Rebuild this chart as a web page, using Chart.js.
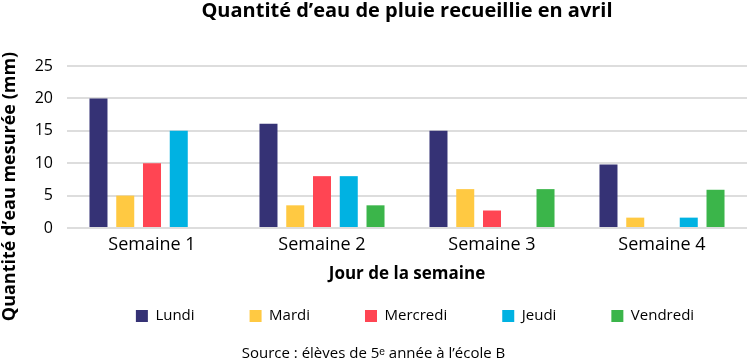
<!DOCTYPE html>
<html>
<head>
<meta charset="utf-8">
<script src="https://cdn.jsdelivr.net/npm/chart.js@4"></script>
<style>
  html, body { margin: 0; padding: 0; background: #fff; }
  #wrap { width: 751px; height: 360px; position: relative; }
</style>
</head>
<body>
<div id="wrap"><canvas id="c"></canvas></div>
<script>
const categories = ["Semaine 1", "Semaine 2", "Semaine 3", "Semaine 4"];
const seriesNames = ["Lundi", "Mardi", "Mercredi", "Jeudi", "Vendredi"];
const lundi    = [20, 16.1, 15, 9.8];
const mardi    = [5, 3.5, 6, 1.6];
const mercredi = [10, 8, 2.7, 0];
const jeudi    = [15, 8, 0, 1.6];
const vendredi = [0, 3.5, 6, 5.9];
const yTicks = [0, 5, 10, 15, 20, 25];

const titleText = "Quantité d’eau de pluie recueillie en avril";
const yTitleText = "Quantité d’eau mesurée (mm)";
const xTitleText = "Jour de la semaine";
const sourceText = "Source : élèves de 5ᵉ année à l’école B";

const colors = ["#353275", "#FFC942", "#FF4553", "#00B2E2", "#3BB54A"];
const values = [lundi, mardi, mercredi, jeudi, vendredi];

Chart.defaults.font.family = "'Open Sans', sans-serif";
Chart.defaults.color = "#000";

const yTitlePlugin = {
  id: 'yTitle',
  afterLayout(chart) {
    // nudge the legend row to the right, as in the reference
    if (chart.legend) { chart.legend.left += 8; chart.legend.right += 8; }
  },
  afterDraw(chart) {
    const ctx = chart.ctx;
    ctx.save();
    ctx.font = "bold 18px 'Open Sans', sans-serif";
    ctx.fillStyle = "#000";
    ctx.textAlign = "center";
    ctx.textBaseline = "middle";
    ctx.translate(10, 186.5);
    ctx.rotate(-Math.PI / 2);
    ctx.fillText(yTitleText, 0, 0);
    ctx.restore();
  }
};

new Chart(document.getElementById('c'), {
  type: 'bar',
  data: {
    labels: categories,
    datasets: seriesNames.map((n, i) => ({
      label: n,
      data: values[i],
      backgroundColor: colors[i],
      borderWidth: 0,
      categoryPercentage: 0.787,
      barPercentage: 0.673
    }))
  },
  options: {
    responsive: true,
    maintainAspectRatio: false,
    animation: false,
    layout: { padding: { left: 0, right: 4, top: 0, bottom: 0 } },
    plugins: {
      title: {
        display: true,
        fullSize: false,
        text: titleText,
        font: { size: 20, weight: 'bold' },
        color: '#000',
        padding: { top: -1, bottom: 43 }
      },
      subtitle: {
        display: true,
        position: 'bottom',
        text: sourceText,
        font: { size: 15, weight: 'normal' },
        color: '#000',
        padding: { top: 11.1, bottom: -2.6 }
      },
      legend: {
        position: 'bottom',
        fullSize: false,
        labels: {
          boxWidth: 12,
          boxHeight: 12,
          padding: 55,
          font: { size: 15 },
          color: '#000'
        }
      },
      tooltip: { enabled: false }
    },
    scales: {
      x: {
        grid: { display: false, drawTicks: false },
        border: { display: false },
        ticks: { padding: 6.5, font: { size: 18 }, color: '#000' },
        title: {
          display: true,
          text: xTitleText,
          font: { size: 17, weight: 'bold' },
          color: '#000',
          padding: { top: 1.2, bottom: -30.7 }
        }
      },
      y: {
        min: 0,
        max: 25,
        afterFit(scale) { scale.width = 67; },
        afterBuildTicks(scale) { scale.ticks = yTicks.map(v => ({ value: v })); },
        grid: { color: '#dddddd', lineWidth: 2, drawTicks: false },
        border: { display: false },
        ticks: { padding: 14, font: { size: 16 }, color: '#000' }
      }
    }
  },
  plugins: [yTitlePlugin]
});
</script>
</body>
</html>
